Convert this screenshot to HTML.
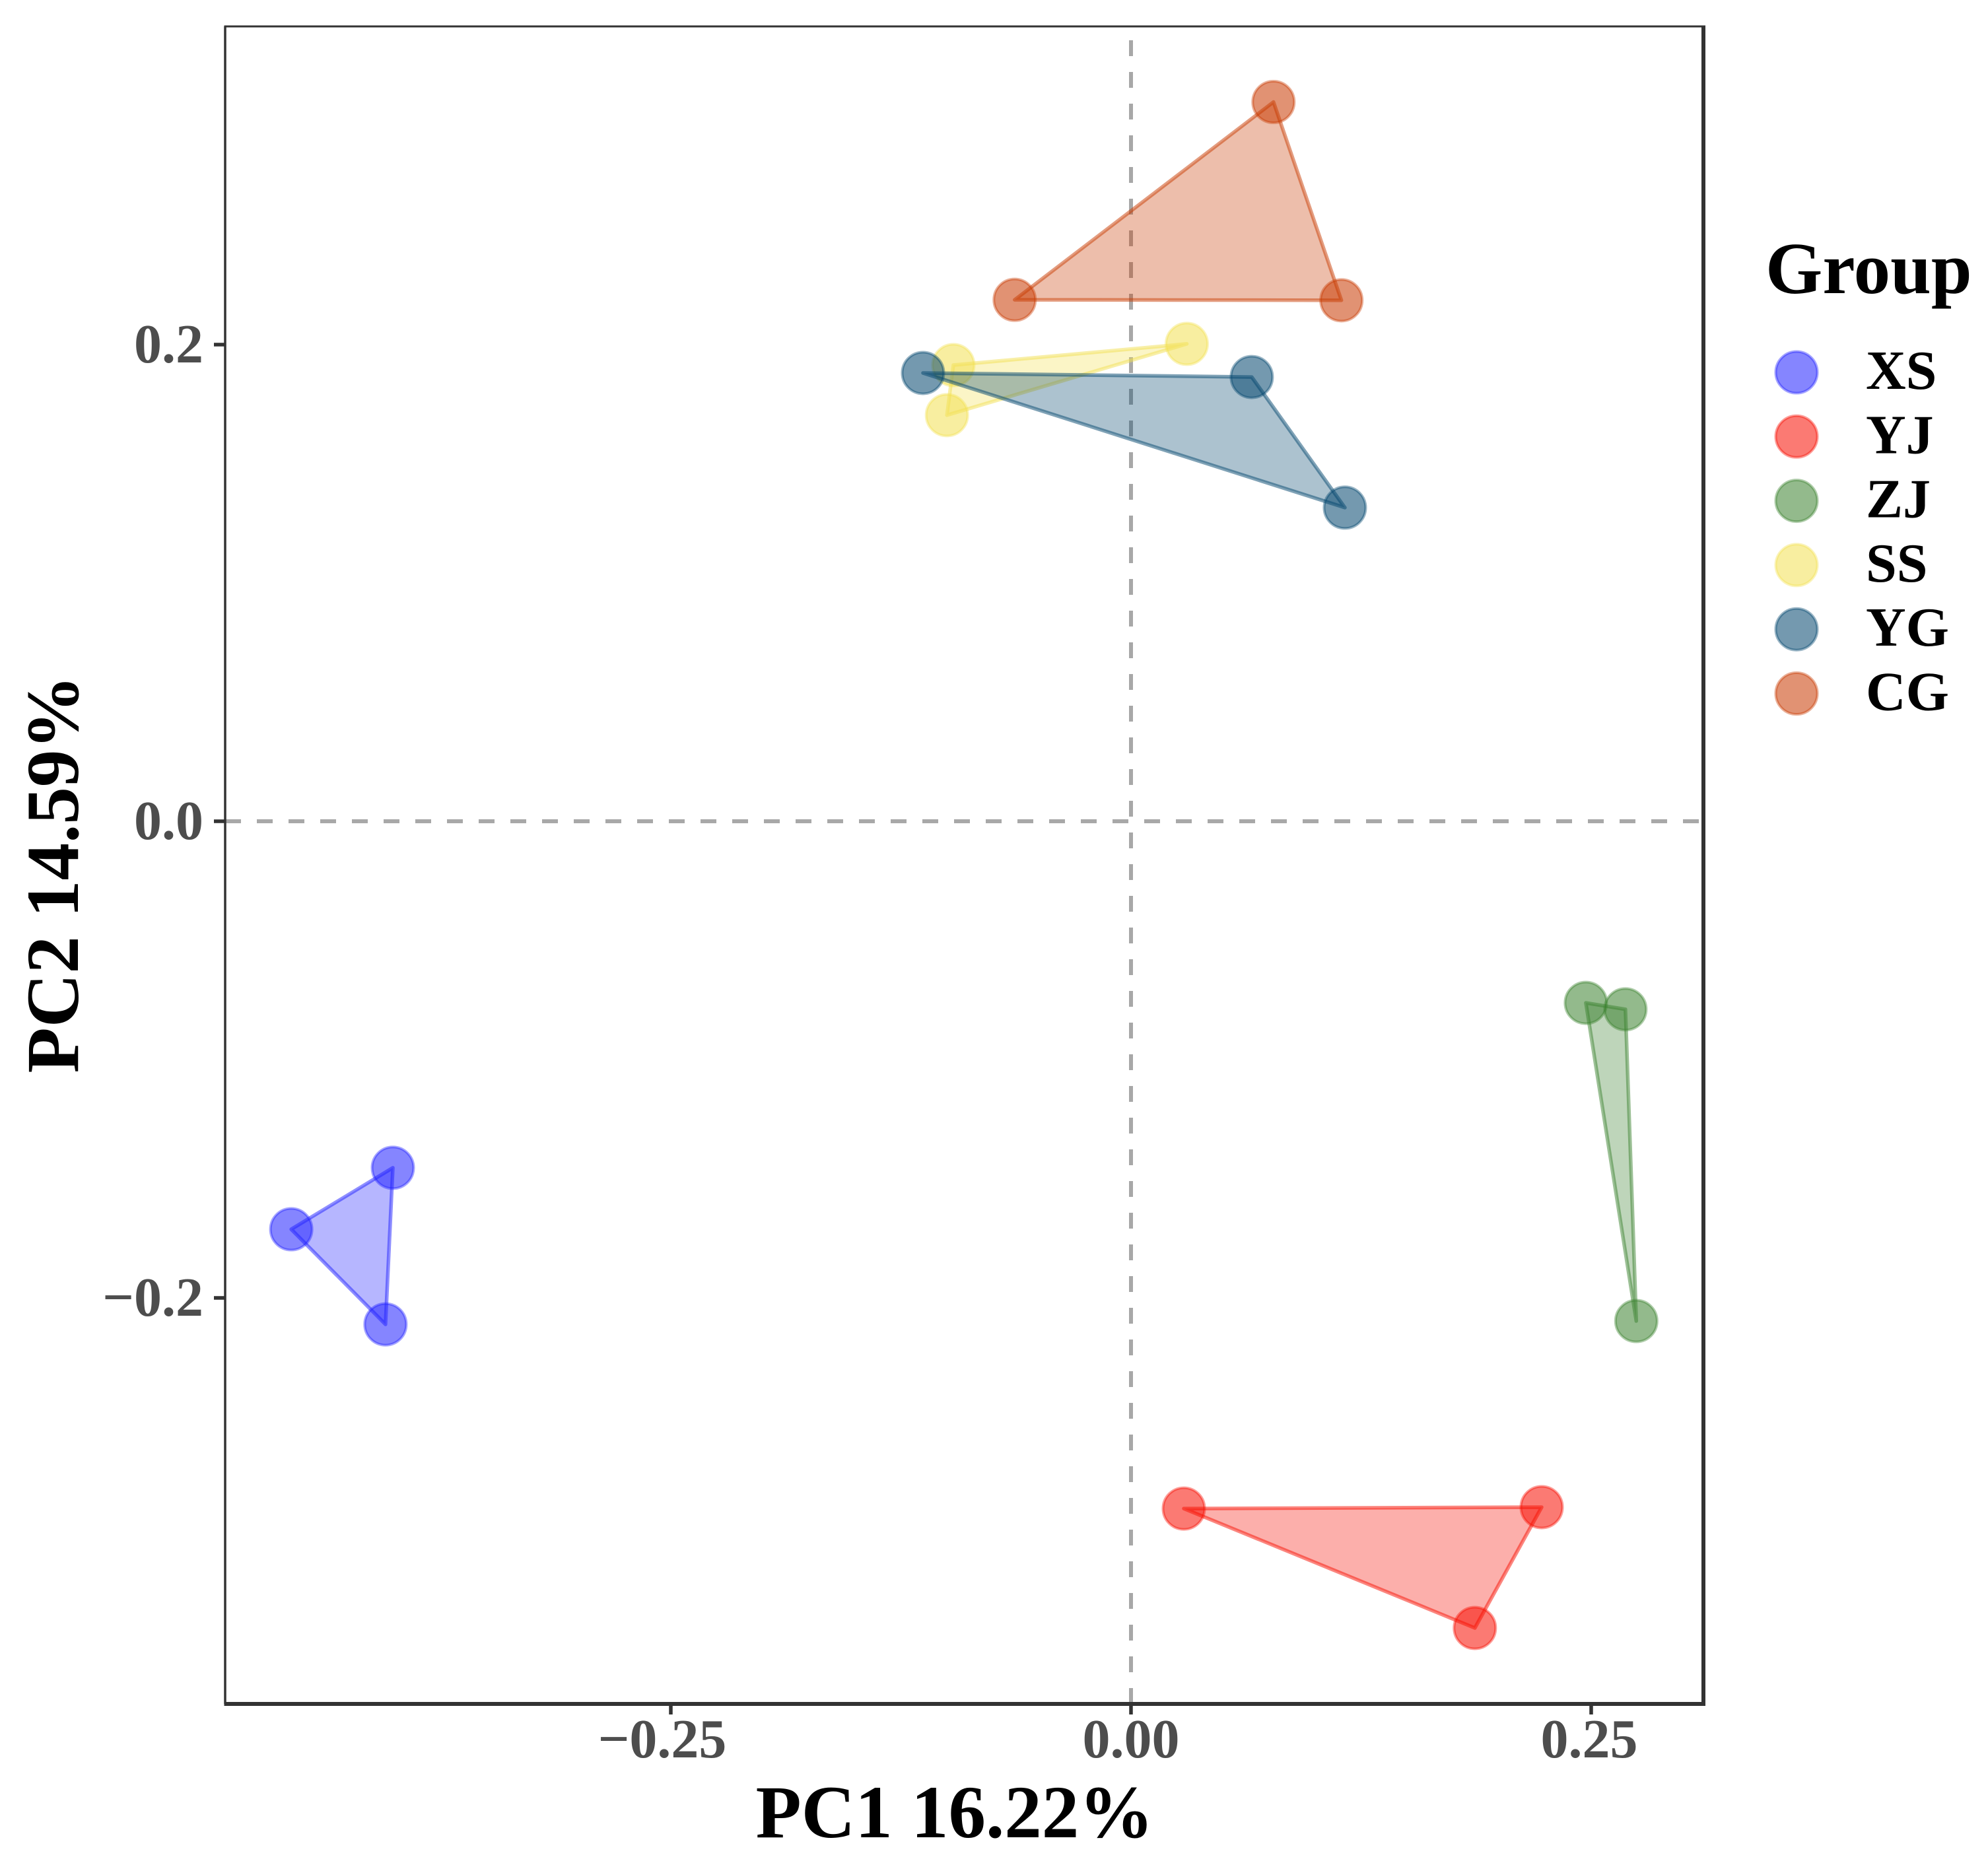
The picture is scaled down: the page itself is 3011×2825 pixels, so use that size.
<!DOCTYPE html>
<html lang="en">
<head>
<meta charset="utf-8">
<title>PCA scatter plot</title>
<style>
html,body{margin:0;padding:0;background:#fff;width:3011px;height:2825px;overflow:hidden}
svg{display:block}
text{font-family:"Liberation Serif",serif;font-weight:bold}
</style>
</head>
<body>
<svg id="chart" xmlns="http://www.w3.org/2000/svg" width="3011" height="2825" viewBox="0 0 3011 2825">
  <rect x="0" y="0" width="3011" height="2825" fill="#ffffff"/>
  <g id="zero-lines"></g>
  <g id="points"></g>
  <g id="hulls"></g>
  <g id="axes"></g>
  <text x="1446" y="2783" font-size="113" text-anchor="middle" fill="#000">PC1 16.22%</text>
  <text x="118" y="1324" font-size="113" text-anchor="middle" fill="#000" transform="rotate(-90 118 1324)">PC2 14.59%</text>
  <text x="2674" y="444" font-size="111" fill="#000">Group</text>
  <g id="legend"></g>
</svg>
<script>
const groupNames = ['XS', 'YJ', 'ZJ', 'SS', 'YG', 'CG'];
const groupColors = ['#2020ff', '#f70d00', '#3a812e', '#f2e052', '#02466e', '#c83900'];
const xsX = [-0.4010, -0.4562, -0.4050];
const xsY = [-0.1454, -0.1712, -0.2111];
const yjX = [0.0287, 0.2231, 0.1868];
const yjY = [-0.2884, -0.2878, -0.3385];
const zjX = [0.2471, 0.2686, 0.2745];
const zjY = [-0.0762, -0.0789, -0.2097];
const ssX = [0.0303, -0.0965, -0.1000];
const ssY = [0.2003, 0.1914, 0.1704];
const ygX = [-0.1130, 0.0656, 0.1162];
const ygY = [0.1881, 0.1864, 0.1316];
const cgX = [0.0774, -0.0632, 0.1143];
const cgY = [0.3018, 0.2188, 0.2186];
const seriesX = [xsX, yjX, zjX, ssX, ygX, cgX];
const seriesY = [xsY, yjY, zjY, ssY, ygY, cgY];
const xTickValues = [-0.25, 0, 0.25];
const xTickLabels = ['\u22120.25', '0.00', '0.25'];
const yTickValues = [-0.2, 0, 0.2];
const yTickLabels = ['\u22120.2', '0.0', '0.2'];

const NS = 'http://www.w3.org/2000/svg';
const panel = {left: 341, right: 2580, top: 40, bottom: 2581};
function xScale(v) { return 1713 + v * 2788; }
function yScale(v) { return 1244 - v * 3610; }
function make(tag, parent, attrs) {
  const el = document.createElementNS(NS, tag);
  for (const k in attrs) el.setAttribute(k, attrs[k]);
  parent.appendChild(el);
  return el;
}

const zero = document.getElementById('zero-lines');
const vZero = make('line', zero, {x1: xScale(0), x2: xScale(0), y1: panel.bottom, y2: panel.top, stroke: '#a8a8a8', 'stroke-width': 6, 'stroke-dasharray': '24 24'});


const hZero = make('line', zero, {x1: panel.left, x2: panel.right, y1: yScale(0), y2: yScale(0), stroke: '#a8a8a8', 'stroke-width': 6, 'stroke-dasharray': '24 24'});



const pointsLayer = document.getElementById('points');
const hullsLayer = document.getElementById('hulls');
groupNames.forEach(function (name, g) {
  const xs = seriesX[g];
  const ys = seriesY[g];
  const color = groupColors[g];
  xs.forEach(function (x, i) {
    const c = make('circle', pointsLayer, {cx: xScale(x), cy: yScale(ys[i]), r: 31.5, fill: color, 'fill-opacity': 0.55, stroke: color, 'stroke-opacity': 0.4, 'stroke-width': 4});
    
    
  });
  const pts = xs.map(function (x, i) { return xScale(x) + ',' + yScale(ys[i]); }).join(' ');
  const p = make('polygon', hullsLayer, {points: pts, fill: color, 'fill-opacity': 0.33, stroke: color, 'stroke-opacity': 0.5, 'stroke-width': 5.5, 'stroke-linejoin': 'round'});
  
  
});

const axes = document.getElementById('axes');
const borderColor = '#333333';
const borderTop = make('line', axes, {x1: panel.left - 1.5, x2: panel.right, y1: panel.top, y2: panel.top, stroke: borderColor, 'stroke-width': 3});


const borderLeft = make('line', axes, {x1: panel.left, x2: panel.left, y1: panel.top, y2: panel.bottom, stroke: borderColor, 'stroke-width': 3.5});


const borderRight = make('line', axes, {x1: panel.right, x2: panel.right, y1: panel.top - 1.5, y2: panel.bottom + 3, stroke: borderColor, 'stroke-width': 6});


const borderBottom = make('line', axes, {x1: panel.left - 1.5, x2: panel.right + 3, y1: panel.bottom, y2: panel.bottom, stroke: borderColor, 'stroke-width': 6});



xTickValues.forEach(function (v, i) {
  const t = make('line', axes, {x1: xScale(v), x2: xScale(v), y1: panel.bottom, y2: 2597, stroke: borderColor, 'stroke-width': 5.5});
  
  
  const dx = v < 0 ? -13 : (v > 0 ? -3 : 0);
  const l = make('text', axes, {x: xScale(v) + dx, y: 2662, 'font-size': 84, 'text-anchor': 'middle', fill: '#4d4d4d'});
  l.textContent = xTickLabels[i];
  
  
});
yTickValues.forEach(function (v, i) {
  const t = make('line', axes, {x1: 324, x2: panel.left, y1: yScale(v), y2: yScale(v), stroke: borderColor, 'stroke-width': 5.5});
  
  
  const l = make('text', axes, {x: 308, y: yScale(v) + 27, 'font-size': 84, 'text-anchor': 'end', fill: '#4d4d4d'});
  l.textContent = yTickLabels[i];
  
  
});

const legend = document.getElementById('legend');
groupNames.forEach(function (name, g) {
  const cy = 564 + g * 97.3;
  const color = groupColors[g];
  const k = make('circle', legend, {cx: 2721, cy: cy, r: 31.5, fill: color, 'fill-opacity': 0.55, stroke: color, 'stroke-opacity': 0.4, 'stroke-width': 4});
  
  
  const t = make('text', legend, {x: 2826, y: cy + 25, 'font-size': 84, fill: '#000'});
  t.textContent = name;
  
  
});
</script>
</body>
</html>
